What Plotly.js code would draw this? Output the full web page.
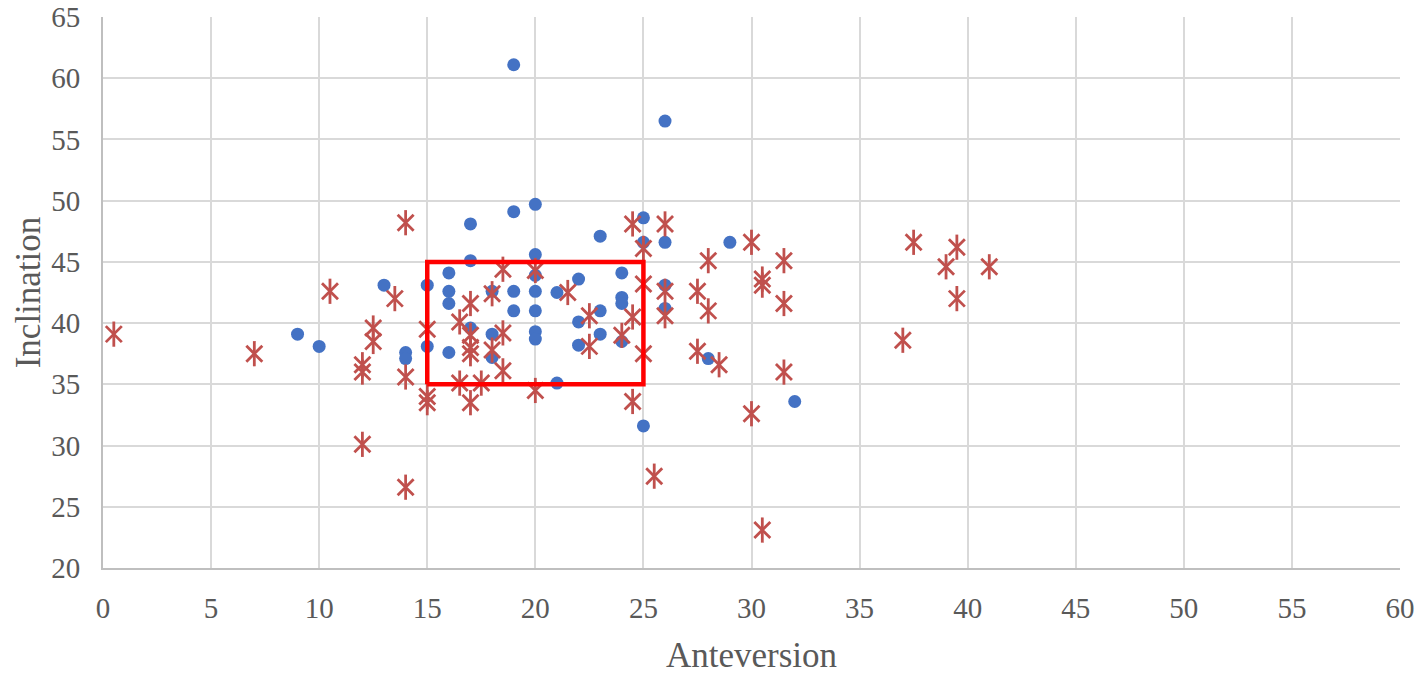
<!DOCTYPE html>
<html>
<head>
<meta charset="utf-8">
<script src="https://cdn.plot.ly/plotly-3.0.1.min.js"></script>
<style>html,body{margin:0;padding:0;background:#fff;}#chart{width:1418px;height:675px;}</style>
</head>
<body>
<div id="chart"></div>
<script>
// Series 1 (blue circles)
const blueX = [19, 26, 20, 19, 17, 25, 23, 26, 25, 29, 20, 17, 16, 24, 20, 22, 13, 15, 26, 16, 18, 19, 20, 21, 24, 16, 24, 19, 20, 23, 26, 22, 17, 18, 9, 20, 20, 23, 24, 10, 15, 22, 16, 14, 14, 18, 28, 21, 32, 25];
const blueY = [61.1, 56.5, 49.7, 49.1, 48.1, 48.6, 47.1, 46.6, 46.6, 46.6, 45.6, 45.1, 44.1, 44.1, 43.9, 43.6, 43.1, 43.1, 43.1, 42.6, 42.6, 42.6, 42.6, 42.5, 42.1, 41.6, 41.6, 41.0, 41.0, 41.0, 41.2, 40.1, 39.6, 39.1, 39.1, 39.3, 38.7, 39.1, 38.5, 38.1, 38.1, 38.2, 37.6, 37.6, 37.1, 37.2, 37.1, 35.1, 33.6, 31.6];
// Series 2 (red stars)
const redX = [0.5, 7, 10.5, 12, 12, 12, 12.5, 12.5, 13.5, 14, 14, 14, 15, 15, 15, 16.5, 16.5, 17, 17, 17, 17, 17, 17.5, 18, 18, 18.5, 18.5, 18.5, 20, 20, 21.5, 22.5, 22.5, 24, 24.5, 24.5, 24.5, 25, 25, 25, 25.5, 26, 26, 26, 27.5, 27.5, 28, 28, 28.5, 30, 30, 30.5, 30.5, 30.5, 31.5, 31.5, 31.5, 37, 37.5, 39, 39.5, 39.5, 41];
const redY = [39.1, 37.5, 42.6, 36.6, 36.0, 30.1, 39.6, 38.5, 42.0, 48.2, 35.6, 26.6, 39.5, 34.0, 33.5, 40.1, 35.1, 41.6, 39.0, 38.0, 37.5, 33.5, 35.1, 42.4, 37.8, 44.4, 39.2, 36.1, 44.3, 34.5, 42.5, 40.6, 38.1, 39.0, 48.1, 40.5, 33.6, 46.1, 43.2, 37.5, 27.5, 48.1, 42.6, 40.6, 42.6, 37.7, 45.1, 41.0, 36.6, 46.6, 32.6, 43.6, 43.1, 23.1, 45.1, 41.6, 36.0, 38.6, 46.6, 44.6, 46.2, 42.0, 44.6];
// Highlight box: [xmin, xmax], [ymin, ymax]
const boxX = [15, 25];
const boxY = [35, 45];
const xTicks = [0, 5, 10, 15, 20, 25, 30, 35, 40, 45, 50, 55, 60];
const yTicks = [20, 25, 30, 35, 40, 45, 50, 55, 60, 65];

const blueC = '#4472C4';
const redC = '#C0504D';

const traces = [
  {x: blueX, y: blueY, type: 'scatter', mode: 'markers', name: 'Series 1',
   marker: {symbol: 'circle', size: 13, color: blueC, line: {width: 0}}},
  {x: redX, y: redY, type: 'scatter', mode: 'markers', name: 'Series 2',
   marker: {symbol: 'x-thin-open', size: 16, color: redC, line: {width: 2.8, color: redC}}},
  {x: redX, y: redY, type: 'scatter', mode: 'markers', name: 'Series 2b', showlegend: false,
   marker: {symbol: 'line-ns-open', size: 18, color: redC, line: {width: 2.8, color: redC}}},
  {x: [boxX[0], boxX[1], boxX[1], boxX[0], boxX[0]],
   y: [boxY[0], boxY[0], boxY[1], boxY[1], boxY[0]],
   type: 'scatter', mode: 'lines', name: 'Box', line: {color: '#FF0000', width: 4.5}}
];

const fontFam = '"Liberation Serif", "Times New Roman", serif';
const layout = {
  width: 1418, height: 675,
  margin: {l: 103, r: 18, t: 17, b: 107},
  paper_bgcolor: '#ffffff', plot_bgcolor: '#ffffff',
  showlegend: false,
  font: {family: fontFam, color: '#595959', size: 24},
  xaxis: {
    range: [0, 60], tickvals: xTicks, ticktext: xTicks.map(String),
    showgrid: true, gridcolor: '#d9d9d9', gridwidth: 2,
    showline: true, linecolor: '#bfbfbf', linewidth: 2, mirror: false,
    zeroline: false, ticks: 'outside', ticklen: 13, tickcolor: 'rgba(0,0,0,0)',
    ticklabeloverflow: 'allow',
    tickfont: {family: fontFam, size: 29, color: '#595959'},
    title: {text: 'Anteversion', font: {family: fontFam, size: 35, color: '#595959'}, standoff: 26},
    automargin: false, fixedrange: true
  },
  yaxis: {
    range: [20, 65], tickvals: yTicks, ticktext: yTicks.map(String),
    showgrid: true, gridcolor: '#d9d9d9', gridwidth: 2,
    showline: true, linecolor: '#bfbfbf', linewidth: 2,
    zeroline: false, ticks: 'outside', ticklen: 15, tickcolor: 'rgba(0,0,0,0)',
    ticklabeloverflow: 'allow',
    tickfont: {family: fontFam, size: 29, color: '#595959'},
    title: {text: 'Inclination', font: {family: fontFam, size: 35, color: '#595959'}, standoff: 0},
    automargin: false, fixedrange: true
  }
};

Plotly.newPlot('chart', traces, layout, {displayModeBar: false, staticPlot: true});
</script>
</body>
</html>
